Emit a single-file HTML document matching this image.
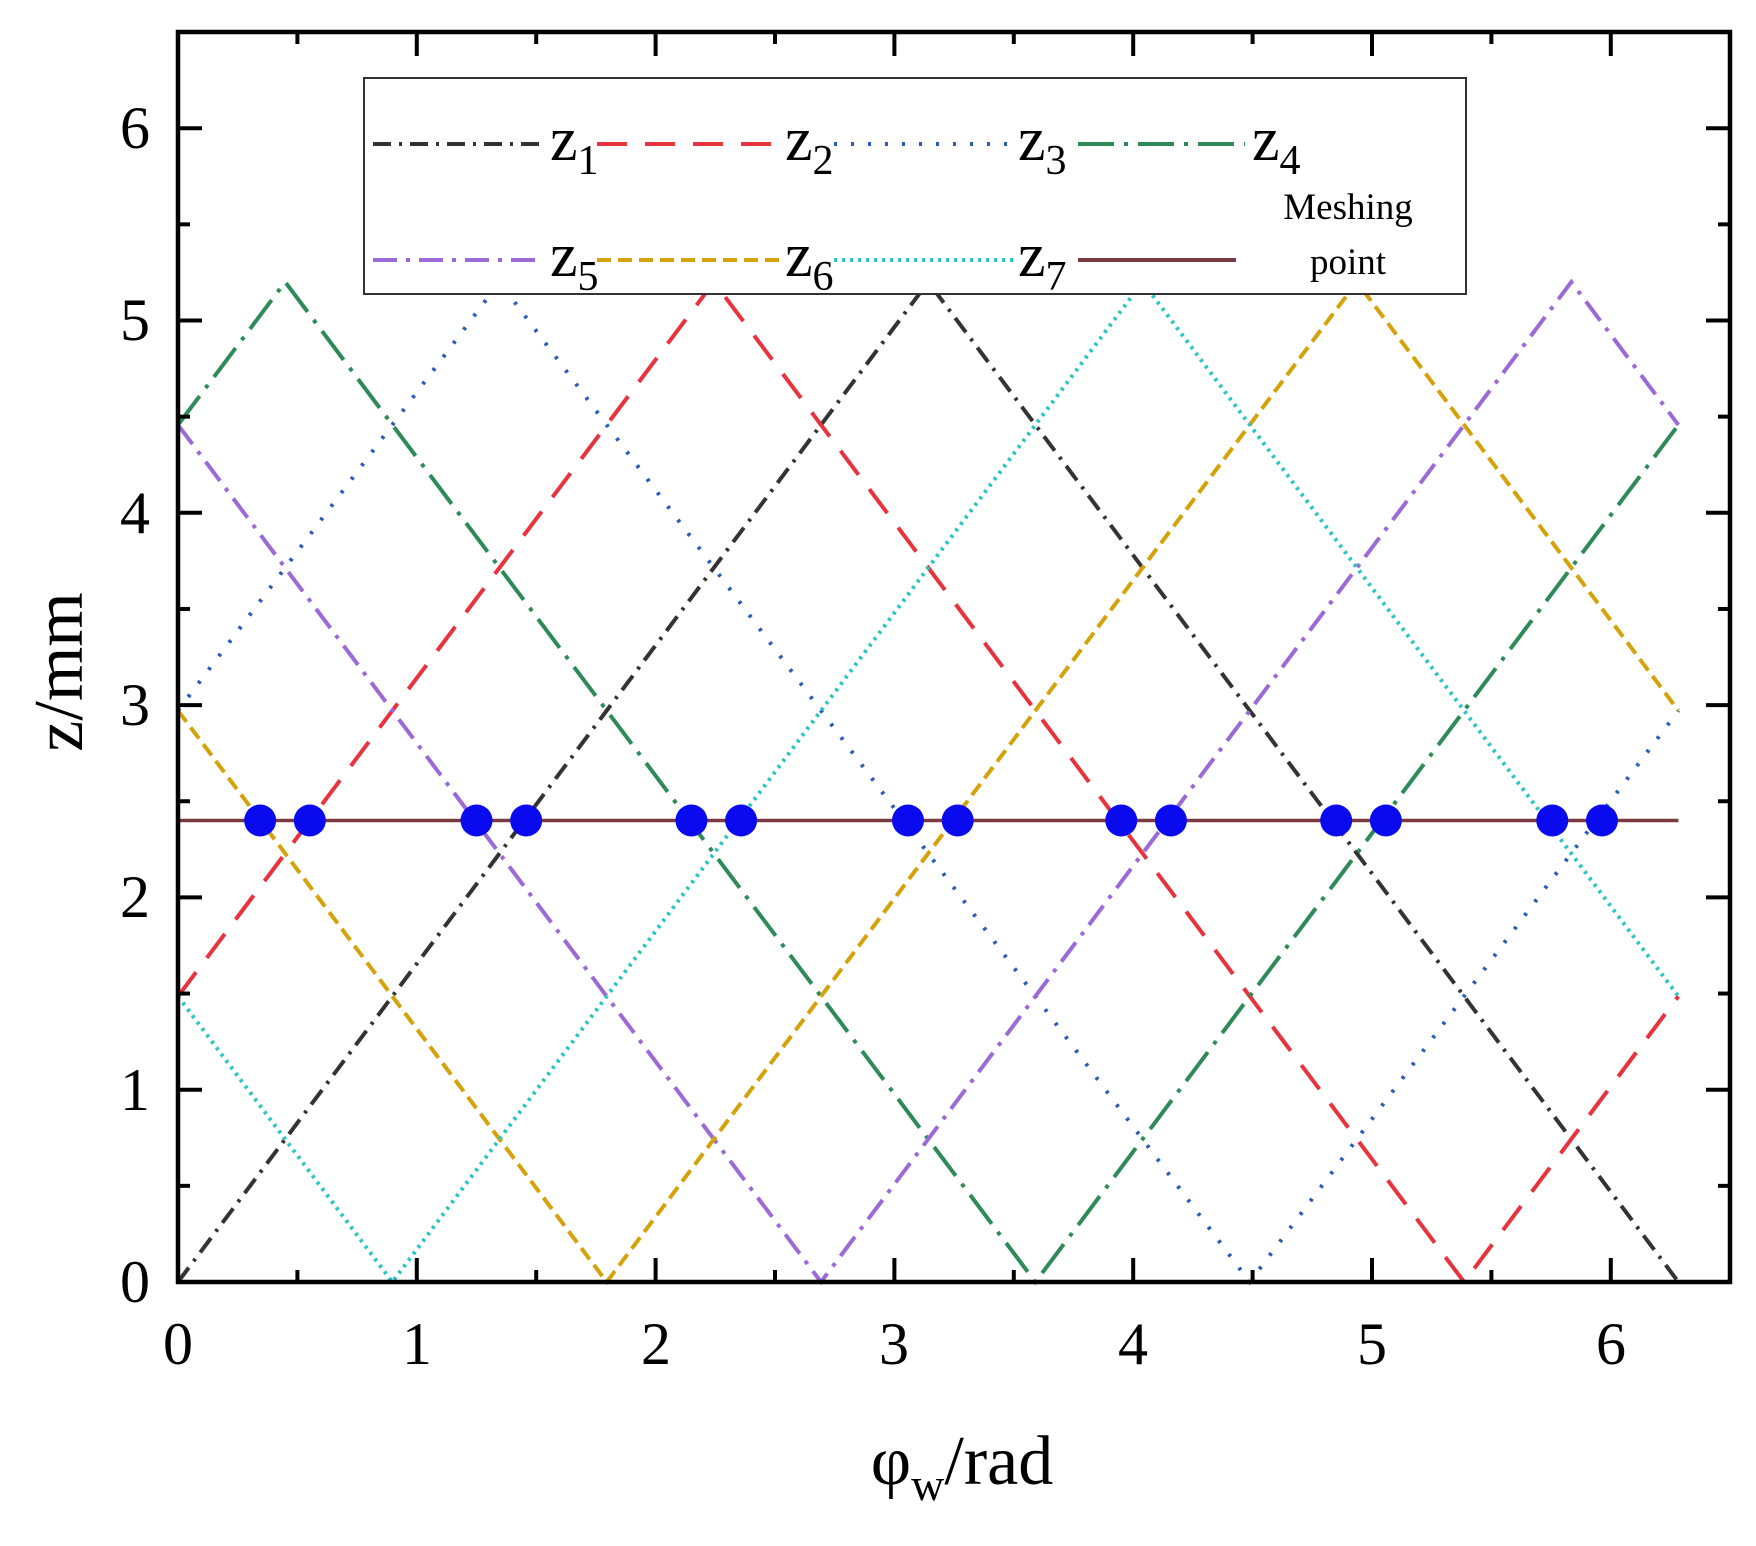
<!DOCTYPE html>
<html><head><meta charset="utf-8"><style>
html,body{margin:0;padding:0;background:#fff}
svg{display:block}
text{font-family:"Liberation Serif",serif;fill:#000}
</style></head><body>
<svg id="s" width="1756" height="1546" viewBox="0 0 1756 1546" xmlns="http://www.w3.org/2000/svg">
<rect width="1756" height="1546" fill="#fff"/>
<g id="curves"></g>
<line x1="178" y1="820.5" x2="1678.4" y2="820.5" stroke="#7a3a3f" stroke-width="3.5"/>
<g id="dots" fill="#0a0aee"></g>
<g id="ticks" stroke="#000" stroke-width="4"></g>
<rect x="178" y="32" width="1552" height="1250" fill="none" stroke="#000" stroke-width="4.5"/>
<!-- legend -->
<rect x="364" y="78" width="1102" height="216" fill="#fff" stroke="#333" stroke-width="2"/>
<g stroke-width="4" fill="none">
<line x1="373" y1="144" x2="543" y2="144" stroke="#333" stroke-dasharray="18 8 3 8"/>
<line x1="597" y1="144" x2="781" y2="144" stroke="#e8323c" stroke-dasharray="30 18"/>
<line x1="834" y1="144" x2="1015" y2="144" stroke="#2a5cb8" stroke-dasharray="3 14"/>
<line x1="1078" y1="144" x2="1245" y2="144" stroke="#2e8b57" stroke-dasharray="36 10 4 10"/>
<line x1="373" y1="260" x2="543" y2="260" stroke="#9b6ad6" stroke-dasharray="24 9 4 9"/>
<line x1="597" y1="260" x2="781" y2="260" stroke="#d4a20a" stroke-dasharray="14 7"/>
<line x1="834" y1="260" x2="1015" y2="260" stroke="#2ec4c4" stroke-dasharray="3 5"/>
<line x1="1078" y1="260" x2="1236" y2="260" stroke="#7a3a3f" stroke-width="4"/>
</g>
<g font-size="62">
<text x="550" y="160">z<tspan font-size="42" dy="14">1</tspan></text>
<text x="785" y="160">z<tspan font-size="42" dy="14">2</tspan></text>
<text x="1018" y="160">z<tspan font-size="42" dy="14">3</tspan></text>
<text x="1252" y="160">z<tspan font-size="42" dy="14">4</tspan></text>
<text x="550" y="276">z<tspan font-size="42" dy="14">5</tspan></text>
<text x="785" y="276">z<tspan font-size="42" dy="14">6</tspan></text>
<text x="1018" y="276">z<tspan font-size="42" dy="14">7</tspan></text>
</g>
<text x="1348" y="219" font-size="37" text-anchor="middle">Meshing</text>
<text x="1348" y="274" font-size="37" text-anchor="middle">point</text>
<g font-size="60" text-anchor="middle">
<text x="178" y="1364">0</text><text x="417" y="1364">1</text><text x="656" y="1364">2</text>
<text x="894" y="1364">3</text><text x="1133" y="1364">4</text><text x="1372" y="1364">5</text><text x="1611" y="1364">6</text>
</g>
<g font-size="60" text-anchor="end">
<text x="150" y="1302">0</text><text x="150" y="1110">1</text><text x="150" y="917">2</text>
<text x="150" y="725">3</text><text x="150" y="533">4</text><text x="150" y="340">5</text><text x="150" y="148">6</text>
</g>
<text x="962" y="1484" font-size="70" text-anchor="middle">φ<tspan font-size="46" dy="16">w</tspan><tspan dy="-16">/rad</tspan></text>
<text transform="translate(82,672) rotate(-90)" font-size="70" text-anchor="middle">z/mm</text>
</svg>
<script>
(function(){
var NS="http://www.w3.org/2000/svg";
function X(v){return 178+v*238.8;}
function Y(v){return 1282-v*192.3;}
var P=Math.PI,A=5.2;
var styles=[["#333","18 8 3 8"],["#e8323c","30 18"],["#2a5cb8","3 14"],["#2e8b57","36 10 4 10"],["#9b6ad6","24 9 4 9"],["#d4a20a","14 7"],["#2ec4c4","3 5"]];
var g=document.getElementById("curves");
for(var k=0;k<7;k++){
  var pk=P-2*k*P/7; pk=((pk%(2*P))+2*P)%(2*P);
  var xs=[0,2*P,pk,pk-P,pk+P].filter(function(v){return v>=0&&v<=2*P;}).sort(function(a,b){return a-b;});
  var pts=xs.map(function(x){
    var d=Math.abs(x-pk); d=Math.min(d,2*P-d);
    var z=A*(1-d/P); return X(x).toFixed(1)+","+Y(z).toFixed(1);});
  var pl=document.createElementNS(NS,"polyline");
  pl.setAttribute("points",pts.join(" "));
  pl.setAttribute("fill","none");pl.setAttribute("stroke",styles[k][0]);
  pl.setAttribute("stroke-width","4");pl.setAttribute("stroke-dasharray",styles[k][1]);
  g.appendChild(pl);
}
var dg=document.getElementById("dots");
var base=[0.344,1.25,2.15,3.057,3.95,4.85,5.755];
base.forEach(function(b){[b,b+0.208].forEach(function(x){
  var c=document.createElementNS(NS,"circle");
  c.setAttribute("cx",X(x));c.setAttribute("cy",Y(2.4));c.setAttribute("r",16);dg.appendChild(c);});});
var tg=document.getElementById("ticks");
function ln(a,b,c,d){var l=document.createElementNS(NS,"line");l.setAttribute("x1",a);l.setAttribute("y1",b);l.setAttribute("x2",c);l.setAttribute("y2",d);tg.appendChild(l);}
for(var i=0;i<=13;i++){var x=X(i*0.5);if(x>1729)continue;var L=(i%2==0)?24:12;
  ln(x,1282,x,1282-L);ln(x,32,x,32+L);}
for(var i=0;i<=13;i++){var y=Y(i*0.5);if(y<33)continue;var L=(i%2==0)?24:12;
  ln(178,y,178+L,y);ln(1730,y,1730-L,y);}
})();
</script>
</body></html>
